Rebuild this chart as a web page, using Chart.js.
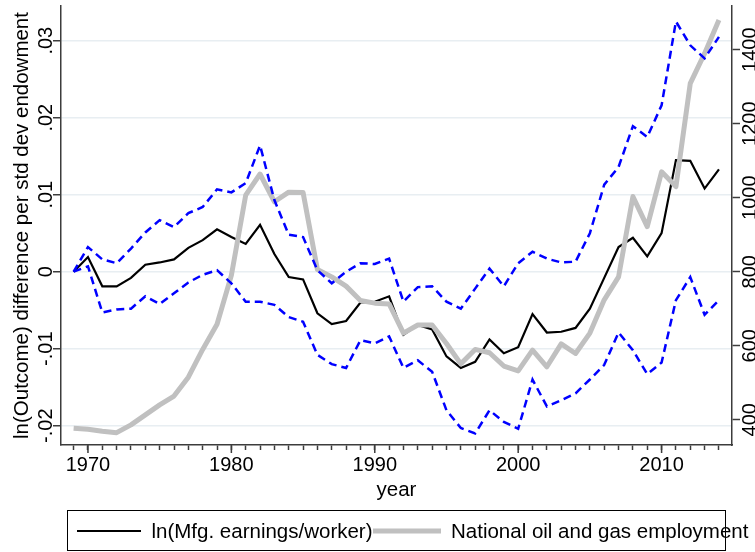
<!DOCTYPE html>
<html>
<head>
<meta charset="utf-8">
<script src="https://cdn.jsdelivr.net/npm/chart.js@4.4.0/dist/chart.umd.min.js"></script>
<style>
  body { margin: 0; background: #fff; }
  canvas { display: block; }
</style>
</head>
<body>
<canvas id="myChart" width="755" height="552"></canvas>
<script>
// data
const years = [1969, 1970, 1971, 1972, 1973, 1974, 1975, 1976, 1977, 1978,
  1979, 1980, 1981, 1982, 1983, 1984, 1985, 1986, 1987, 1988,
  1989, 1990, 1991, 1992, 1993, 1994, 1995, 1996, 1997, 1998,
  1999, 2000, 2001, 2002, 2003, 2004, 2005, 2006, 2007, 2008,
  2009, 2010, 2011, 2012, 2013, 2014];

const earnings = [0, 0.0019, -0.0019, -0.0019, -0.0008, 0.0009, 0.0012, 0.0016, 0.0031, 0.0041,
  0.0055, 0.0045, 0.0036, 0.0061, 0.0023, -0.0007, -0.0010, -0.0054, -0.0068, -0.0064,
  -0.0040, -0.0039, -0.0032, -0.0082, -0.0069, -0.0075, -0.0110, -0.0125, -0.0117, -0.0088,
  -0.0106, -0.0098, -0.0055, -0.0079, -0.0078, -0.0073, -0.0048, -0.0008, 0.0032, 0.0044,
  0.0020, 0.0050, 0.0145, 0.0144, 0.0108, 0.0133];

const upperCI = [0, 0.0032, 0.0016, 0.0011, 0.0030, 0.0051, 0.0067, 0.0058, 0.0076, 0.0084,
  0.0107, 0.0103, 0.0115, 0.0164, 0.0093, 0.0048, 0.0045, 0.0002, -0.0015, 0,
  0.0011, 0.0010, 0.0017, -0.0039, -0.0020, -0.0019, -0.0039, -0.0048, -0.0022, 0.0004,
  -0.0019, 0.0011, 0.0026, 0.0017, 0.0012, 0.0013, 0.0050, 0.0113, 0.0136, 0.0189,
  0.0175, 0.0216, 0.0325, 0.0294, 0.0277, 0.0305];

const lowerCI = [0, 0.0007, -0.0053, -0.0049, -0.0048, -0.0032, -0.0042, -0.0028, -0.0014, -0.0004,
  0.0002, -0.0015, -0.0039, -0.0039, -0.0043, -0.0059, -0.0065, -0.0108, -0.0120, -0.0125,
  -0.0089, -0.0093, -0.0084, -0.0125, -0.0115, -0.0130, -0.0180, -0.0203, -0.0210, -0.0180,
  -0.0195, -0.0204, -0.0140, -0.0175, -0.0167, -0.0158, -0.0140, -0.0121, -0.0079, -0.0102,
  -0.0133, -0.0118, -0.0037, -0.0007, -0.0056, -0.0037];

const oilGasEmp = [377, 374, 369, 365, 386, 413, 440, 464, 515, 590,
  658, 790, 1007, 1064, 989, 1015, 1014, 806, 786, 761,
  722, 715, 713, 634, 656, 656, 606, 551, 590, 581,
  545, 532, 588, 543, 605, 579, 634, 724, 786, 1003,
  922, 1070, 1030, 1309, 1390, 1480];

const yearTicks = [1970, 1980, 1990, 2000, 2010];
const leftTicks = [-0.02, -0.01, 0, 0.01, 0.02, 0.03];
const leftTickLabels = ['-.02', '-.01', '0', '.01', '.02', '.03'];
const rightTicks = [400, 600, 800, 1000, 1200, 1400];

// Stata look: use the narrow sans if it is there, else plain Liberation Sans
const probe = document.createElement('canvas').getContext('2d');
probe.font = '40px "Liberation Sans Narrow", monospace';
const wNarrow = probe.measureText('National employment 1970').width;
probe.font = '40px monospace';
const hasNarrow = Math.abs(wNarrow - probe.measureText('National employment 1970').width) > 1;
const FONT = hasNarrow ? '"Liberation Sans Narrow", sans-serif' : '"Liberation Sans", Arial, sans-serif';
const BIG = hasNarrow ? 25 : 20.5;
const TICK = hasNarrow ? 23.5 : 20;
const AXIS = '#3c3c3c';

const pts = arr => years.map((yr, i) => ({ x: yr, y: arr[i] }));

// rotated tick labels, longer major ticks and the boxed legend
const extras = {
  id: 'extras',
  afterDraw(chart) {
    const { ctx, chartArea, scales } = chart;
    ctx.save();
    ctx.fillStyle = '#000';
    ctx.font = TICK + 'px ' + FONT;
    ctx.textAlign = 'center';
    ctx.textBaseline = 'middle';
    leftTicks.forEach((v, i) => {
      ctx.save();
      ctx.translate(46, scales.y.getPixelForValue(v));
      ctx.rotate(-Math.PI / 2);
      ctx.fillText(leftTickLabels[i], 0, 0);
      ctx.restore();
    });
    rightTicks.forEach(v => {
      ctx.save();
      ctx.translate(750, scales.y2.getPixelForValue(v));
      ctx.rotate(-Math.PI / 2);
      ctx.fillText(String(v), 0, 0);
      ctx.restore();
    });

    ctx.strokeStyle = AXIS;
    ctx.lineWidth = 1.5;
    yearTicks.forEach(yr => {
      const px = scales.x.getPixelForValue(yr);
      ctx.beginPath();
      ctx.moveTo(px, chartArea.bottom);
      ctx.lineTo(px, chartArea.bottom + 8);
      ctx.stroke();
    });

    // legend
    ctx.strokeStyle = '#000';
    ctx.lineWidth = 1;
    ctx.strokeRect(67.5, 510.5, 658, 40);
    ctx.font = BIG + 'px ' + FONT;
    ctx.textAlign = 'left';
    const items = chart.data.datasets.filter(d => d.inLegend);
    const spots = [[77, 141, 151.5], [373, 441, 451]];
    items.forEach((d, i) => {
      const [x0, x1, tx] = spots[i];
      ctx.strokeStyle = d.borderColor;
      ctx.lineWidth = d.borderWidth;
      ctx.beginPath();
      ctx.moveTo(x0, 531);
      ctx.lineTo(x1, 531);
      ctx.stroke();
      ctx.fillText(d.label, tx, 532);
    });
    ctx.restore();
  }
};

new Chart(document.getElementById('myChart'), {
  type: 'line',
  data: {
    datasets: [
      {
        label: 'ln(Mfg. earnings/worker)', inLegend: true,
        data: pts(earnings), yAxisID: 'y',
        borderColor: '#000000', borderWidth: 2.2, order: 3
      },
      {
        label: 'National oil and gas employment', inLegend: true,
        data: pts(oilGasEmp), yAxisID: 'y2',
        borderColor: '#c0c0c0', borderWidth: 5, borderJoinStyle: 'round', order: 2
      },
      {
        label: 'upper', data: pts(upperCI), yAxisID: 'y',
        borderColor: '#0000ff', borderWidth: 2.5, borderDash: [8, 5], order: 1
      },
      {
        label: 'lower', data: pts(lowerCI), yAxisID: 'y',
        borderColor: '#0000ff', borderWidth: 2.5, borderDash: [8, 5], order: 1
      }
    ]
  },
  options: {
    responsive: false,
    animation: false,
    devicePixelRatio: 1,
    elements: { point: { radius: 0 }, line: { tension: 0 } },
    layout: { padding: { top: 6, right: 0, bottom: 47, left: 0 } },
    plugins: { legend: { display: false }, tooltip: { enabled: false } },
    scales: {
      x: {
        type: 'linear',
        min: 1968.12,
        max: 2014.91,
        afterBuildTicks: s => { s.ticks = years.map(v => ({ value: v })); },
        afterFit: s => { s.height = 60; },
        grid: { drawOnChartArea: false, drawTicks: true, tickLength: 5, tickColor: AXIS, tickWidth: 1.5 },
        border: { color: AXIS, width: 1.5 },
        ticks: {
          autoSkip: false, maxRotation: 0, padding: hasNarrow ? 1.5 : 3.5, color: '#000',
          font: { family: FONT, size: TICK },
          callback: v => (yearTicks.includes(v) ? String(v) : '')
        },
        title: {
          display: true, text: 'year', color: '#000', font: { family: FONT, size: BIG },
          padding: { top: 0, bottom: hasNarrow ? 0 : 2 }
        }
      },
      y: {
        position: 'left',
        min: -0.022506,
        max: 0.034506,
        afterBuildTicks: s => { s.ticks = leftTicks.map(v => ({ value: v })); },
        afterFit: s => { s.width = 61; },
        grid: { color: '#e8eef2', lineWidth: 1.5, tickLength: 8, tickColor: AXIS, tickWidth: 1.5 },
        border: { color: AXIS, width: 1.5 },
        ticks: { display: false },
        title: {
          display: true, text: 'ln(Outcome) difference per std dev endowment', color: '#000',
          font: { family: FONT, size: BIG }, padding: { top: hasNarrow ? 7 : 10, bottom: 0 }
        }
      },
      y2: {
        position: 'right',
        min: 331.6,
        max: 1518.1,
        afterBuildTicks: s => { s.ticks = rightTicks.map(v => ({ value: v })); },
        afterFit: s => { s.width = 23; },
        grid: { drawOnChartArea: false, tickLength: 8, tickColor: AXIS, tickWidth: 1.5 },
        border: { color: AXIS, width: 1.5 },
        ticks: { display: false }
      }
    }
  },
  plugins: [extras]
});
</script>
</body>
</html>
